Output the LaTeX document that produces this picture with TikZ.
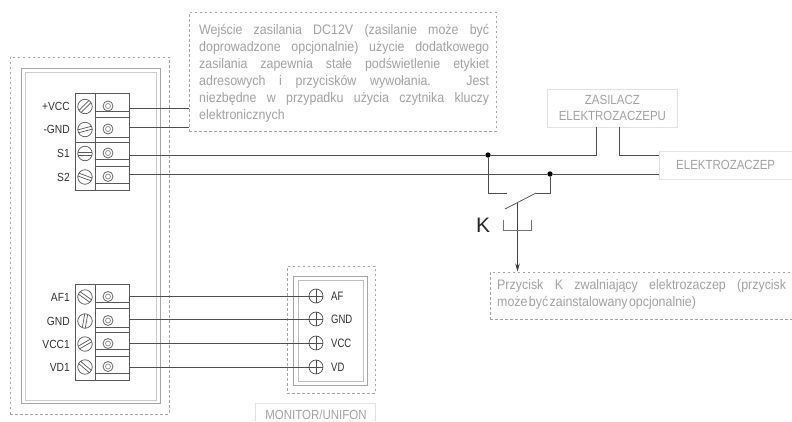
\documentclass[tikz,border=0pt]{standalone}
\usepackage{fontspec}
\setmainfont{Liberation Sans}
\newfontfamily\notefont[FakeStretch=0.9]{Liberation Sans}
\newfontfamily\pinfont[FakeStretch=0.87]{Liberation Sans}
\newfontfamily\monfont[FakeStretch=0.78]{Liberation Sans}
\usetikzlibrary{arrows.meta}
\definecolor{wiregray}{HTML}{4F4F4F}
\definecolor{framegray}{HTML}{A6A6A6}
\definecolor{notegray}{HTML}{A3A3A3}
\definecolor{boxgray}{HTML}{E2E2E2}
\tikzset{
	wire/.style={draw=wiregray, line width=1pt},
	term/.style={draw=black!65, line width=0.7pt},
	dotbox/.style={draw=black!35, dash pattern=on 2.5pt off 2.5pt, line width=0.7pt, anchor=north west, inner sep=0pt},
	plainbox/.style={draw=boxgray, line width=0.8pt, anchor=north west, inner sep=0pt, text=notegray, align=center, font=\pinfont\fontsize{13.2}{16}\selectfont},
	notetext/.style={text=notegray, align=justify, font=\notefont\fontsize{13.8}{17}\selectfont},
	pinlabel/.style={text=black!80, anchor=east, inner sep=0pt, font=\pinfont\fontsize{11.8}{12}\selectfont},
	monlabel/.style={text=black!80, anchor=west, inner sep=0pt, font=\monfont\fontsize{12.2}{12}\selectfont},
	joint/.style={circle, fill=black, inner sep=0pt, minimum size=5.4pt},
	monpin/.style={circle, draw=black!70, line width=0.7pt, inner sep=0pt, minimum size=14pt},
}
\begin{document}
\begin{tikzpicture}[x=1pt, y=-1pt]
	\useasboundingbox (0,0) rectangle (792,421);
	\fill[white] (0,0) rectangle (792,421);

	% door station
	\node[dotbox, minimum width=159pt, minimum height=357pt] (station) at (10,56.5) {};
	\node[draw=framegray, line width=1.3pt, anchor=north west, inner sep=0pt, minimum width=139pt, minimum height=335pt] (panel) at (21,68) {};
	\node[draw=black!20, line width=1pt, anchor=north west, inner sep=0pt, minimum width=131pt, minimum height=328pt] (panelin) at (25,71.5) {};

	% terminal blocks
	\draw[term] (75,93.5) rectangle (129,190) (95.5,93.5)--(95.5,190) (75,142)--(129,142);
	\draw[term] (75,284.5) rectangle (129,380.5) (95.5,284.5)--(95.5,380.5);
	\foreach \ya/\yb in {111/117, 137/142, 159/166, 183/190, 302/308, 327/332, 349/356, 373/380.5}{
		\draw[term] (96,\ya)--(129,\ya);
		\draw[term] (96,\yb)--(129,\yb);
	}

	\foreach \name/\txt/\ys/\yw/\ang in {pv/+VCC/106.5/108/45, mg/-GND/129.5/127/15, sa/S1/153.5/155/0, sb/S2/177/174/-20, af/AF1/297/296/-35, gn/GND/321/319/80, vc/VCC1/344/343/30, vd/VD1/367/367/-40}{
		\node[pinlabel] (lab\name) at (70,\ys) {\txt};
		\node[circle, draw=black!65, line width=0.7pt, inner sep=0pt, minimum size=14.5pt] (screw\name) at (85,\ys) {};
		\draw[black!65, line width=0.7pt, rotate around={\ang:(85,\ys)}] (78,\ys-1.5)--(92,\ys-1.5) (78,\ys+1.5)--(92,\ys+1.5);
		\node[circle, draw=black!60, line width=0.8pt, inner sep=0pt, minimum size=10pt] (clamp\name) at (108,\ys-0.5) {};
		\node[circle, draw=black!45, line width=0.7pt, inner sep=0pt, minimum size=5pt] at (clamp\name) {};
		\coordinate (w\name) at (129,\yw);
	}

	% notes
	\node[dotbox, minimum width=307pt, minimum height=119pt] (powernote) at (189,12) {};
	\node[notetext, text width=290pt, anchor=north west, inner sep=0pt] (powertext) at (199,24) {Wejście zasilania DC12V (zasilanie może być\linebreak doprowadzone opcjonalnie) użycie dodatkowego\linebreak zasilania zapewnia stałe podświetlenie etykiet\linebreak adresowych i przycisków wywołania. Jest\linebreak niezbędne w przypadku użycia czytnika kluczy\linebreak elektronicznych};
	\node[dotbox, minimum width=301.5pt, minimum height=47pt] (keynote) at (490,272) {};
	\node[notetext, text width=289pt, anchor=north west, inner sep=0pt] (keytext) at (497,279) {Przycisk K zwalniający elektrozaczep (przycisk\linebreak {\spaceskip=0.1em\relax może być zainstalowany opcjonalnie)}};

	% power supply and strike
	\node[plainbox, minimum width=130pt, minimum height=38pt] (supply) at (547,89) {ZASILACZ\\ELEKTROZACZEPU};
	\node[plainbox, minimum width=132.5pt, minimum height=28pt] (strike) at (659,151) {ELEKTROZACZEP};
	\node[joint] (jointa) at (488,155) {};
	\node[joint] (jointb) at (550,174) {};

	\draw[wire] (wpv) -- (powernote.west |- wpv);
	\draw[wire] (wmg) -- (powernote.west |- wmg);
	\draw[wire] (wsa) -- (jointa) -- (596,155) -- (596,127);
	\draw[wire] (wsb) -- (jointb) -- (strike.west |- jointb);
	\draw[wire] (619,127) -- (619,155) -- (strike.west |- 619,155);

	% push button
	\coordinate (conta) at (507,193);
	\coordinate (contb) at (536,193);
	\coordinate (blade) at (505,209);
	\draw[wire] (jointa) -- (jointa |- conta) -- (conta);
	\draw[wire] (jointb) -- (jointb |- contb) -- (contb);
	\draw[black!70, line width=0.7pt] (contb) -- (blade);
	\draw[black!75, line width=0.8pt, -{Stealth[length=8pt,width=4.5pt]}] (517.5,203) -- (517.5,271.5);
	\draw[black!55, line width=0.8pt] (503,220) -- (503,230) -- (531,230) -- (531,220);
	\node[inner sep=0pt, font=\fontsize{21}{24}\selectfont, text=black!85] (keyname) at (483,225) {K};

	% monitor
	\node[dotbox, minimum width=88pt, minimum height=127pt] (monitor) at (287,266) {};
	\node[draw=framegray, line width=1.1pt, anchor=north west, inner sep=0pt, minimum width=74pt, minimum height=109pt] (monpanel) at (293,276) {};
	\node[draw=black!25, line width=0.8pt, anchor=north west, inner sep=0pt, minimum width=65pt, minimum height=101pt] (monin) at (298,280) {};
	\foreach \name/\txt/\yw in {af/AF/296, gn/GND/319, vc/VCC/343, vd/VD/367}{
		\node[monpin] (m\name) at (316,\yw) {};
		\draw[black!70, line width=0.7pt] (m\name.north) -- (m\name.south);
		\draw[wire] (w\name) -- (m\name.east);
		\node[monlabel] (t\name) at (331,\yw) {\txt};
	}
	\draw[draw=boxgray, line width=0.8pt] (255,421) -- (255,403) -- (375,403) -- (375,421);
	\node[inner sep=0pt, anchor=base, text=notegray, font=\pinfont\fontsize{13.2}{16}\selectfont] (monname) at (316,419.3) {MONITOR/UNIFON};
\end{tikzpicture}
\end{document}
